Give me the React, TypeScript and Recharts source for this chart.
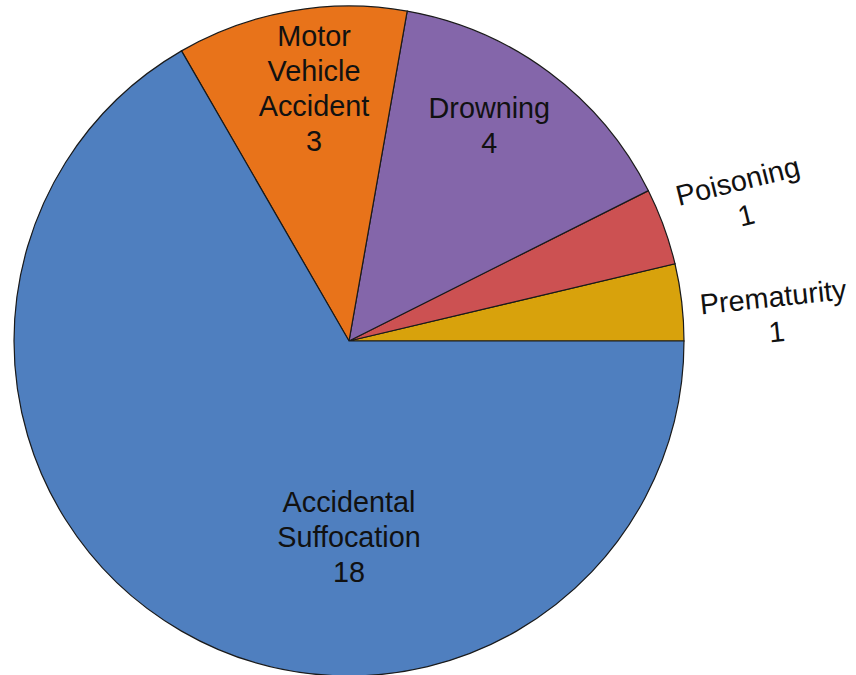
import React from 'react';
import { PieChart, Pie, Cell } from 'recharts';

const categories = ['Prematurity', 'Poisoning', 'Drowning', 'Motor Vehicle Accident', 'Accidental Suffocation'];
const values = [1, 1, 4, 3, 18];
const labelLines = [
  ['Prematurity'],
  ['Poisoning'],
  ['Drowning'],
  ['Motor', 'Vehicle', 'Accident'],
  ['Accidental', 'Suffocation'],
];

const colors = ['#D8A20C', '#CC5152', '#8466AA', '#E8731A', '#4F7FBF'];
// label placement (angle in degrees, radius as fraction of outer radius, rotation)
const labelStyle = [
  { angle: 3.6, frac: 1.274, rot: -6 },
  { angle: 20.0, frac: 1.248, rot: -14 },
  { angle: 56.9, frac: 0.767, rot: 0 },
  { angle: 97.9, frac: 0.761, rot: 0 },
  { angle: -90, frac: 0.585, rot: 0 },
];

const data = categories.map((c, i) => ({ name: c, value: values[i] }));

const FONT = '"Liberation Sans", Arial, Helvetica, sans-serif';
const LINE = 35;

const renderLabel = (props: any) => {
  const { cx, cy, outerRadius, index, value } = props;
  const st = labelStyle[index];
  const rad = (st.angle * Math.PI) / 180;
  const x = cx + outerRadius * st.frac * Math.cos(rad);
  const y = cy - outerRadius * st.frac * Math.sin(rad);
  const lines = [...labelLines[index], String(value)];
  const n = lines.length;
  return (
    <g transform={`translate(${x},${y}) rotate(${st.rot})`} key={`l-${index}`}>
      <text textAnchor="middle" fontFamily={FONT} fontSize={28.8} fill="#111">
        {lines.map((t, i) => (
          <tspan key={i} x={0} y={(i - (n - 1) / 2) * LINE} dominantBaseline="central">
            {t}
          </tspan>
        ))}
      </text>
    </g>
  );
};

export default function App() {
  return (
    <div style={{ position: 'absolute', left: 0, top: 0, width: 856, height: 675, background: '#fff' }}>
      <PieChart width={856} height={675} margin={{ top: 0, right: 0, bottom: 0, left: 0 }}>
        <Pie
          data={data}
          dataKey="value"
          nameKey="name"
          cx={349}
          cy={341}
          outerRadius={335}
          startAngle={0}
          endAngle={360}
          stroke="#1a1a1a"
          strokeWidth={1.2}
          isAnimationActive={false}
          labelLine={false}
          label={renderLabel}
        >
          {data.map((d, i) => (
            <Cell key={d.name} fill={colors[i]} />
          ))}
        </Pie>
      </PieChart>
    </div>
  );
}
